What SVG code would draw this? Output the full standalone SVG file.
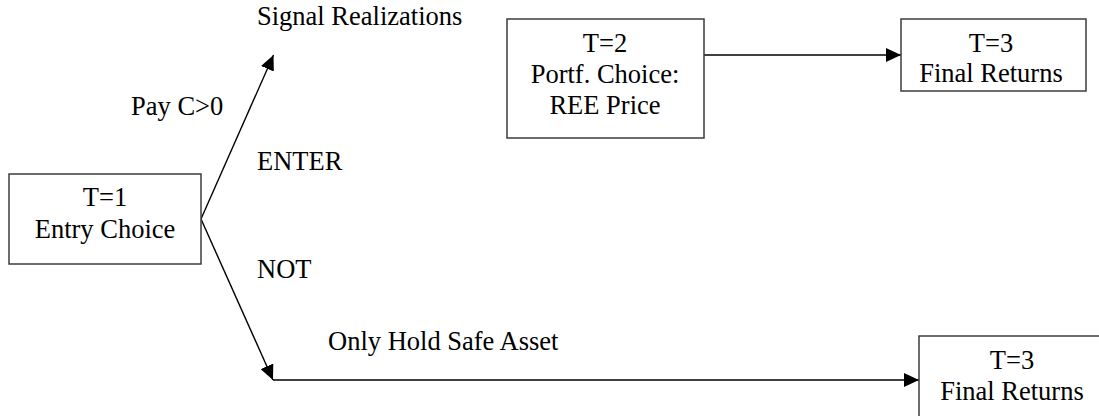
<svg xmlns="http://www.w3.org/2000/svg" width="1099" height="416" viewBox="0 0 1099 416">
  <style>
    .box { fill: #ffffff; stroke: #3c3c3c; stroke-width: 1.5; }
    text { font-family: 'Liberation Serif', 'Times New Roman', serif; font-size: 26.5px; fill: #000000; }
    .c { text-anchor: middle; }
    .edge { stroke: #000000; stroke-width: 1.4; fill: none; marker-end: url(#arrow); }
  </style>
  <defs>
    <marker id="arrow" markerUnits="userSpaceOnUse" markerWidth="16" markerHeight="14" refX="15" refY="7" orient="auto">
      <path d="M0,0 L15,7 L0,14 z" fill="#000000"/>
    </marker>
  </defs>
  <rect width="1099" height="416" fill="#ffffff"/>

  <g id="connectors">
    <path class="edge" d="M201,219 L273.5,55"/>
    <path class="edge" d="M201,219 L273,380"/>
    <path class="edge" d="M273,380 L919,380"/>
    <path class="edge" d="M704,55 L901,55"/>
  </g>

  <g id="labels">
    <text x="257" y="25">Signal Realizations</text>
    <text x="131" y="115">Pay C&gt;0</text>
    <text x="257" y="170">ENTER</text>
    <text x="257" y="278">NOT</text>
    <text x="328" y="350">Only Hold Safe Asset</text>
  </g>

  <g id="node-t1">
    <rect class="box" x="9" y="174" width="192" height="90"/>
    <text class="c" x="105" y="206">T=1</text>
    <text class="c" x="105" y="238">Entry Choice</text>
  </g>

  <g id="node-t2">
    <rect class="box" x="507" y="19" width="197" height="119"/>
    <text class="c" x="605" y="52">T=2</text>
    <text class="c" x="605" y="83">Portf. Choice:</text>
    <text class="c" x="605" y="114">REE Price</text>
  </g>

  <g id="node-t3-top">
    <rect class="box" x="901" y="19" width="185" height="72"/>
    <text class="c" x="991" y="52">T=3</text>
    <text class="c" x="991" y="82">Final Returns</text>
  </g>

  <g id="node-t3-bottom">
    <rect class="box" x="919" y="336" width="186" height="86"/>
    <text class="c" x="1012" y="369">T=3</text>
    <text class="c" x="1012" y="400">Final Returns</text>
  </g>
</svg>
